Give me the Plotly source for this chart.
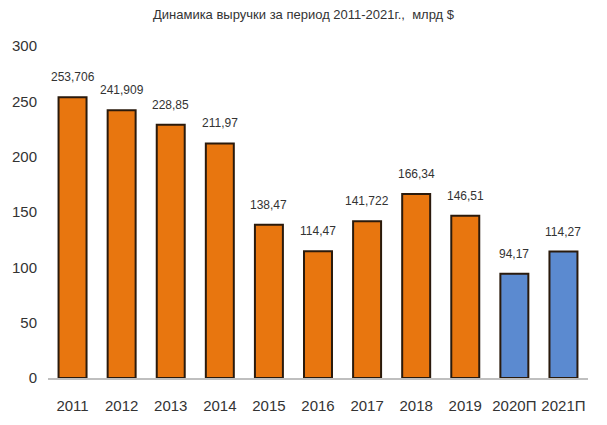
import plotly.graph_objects as go

years = ["2011", "2012", "2013", "2014", "2015", "2016", "2017", "2018", "2019", "2020П", "2021П"]
revenue = [253.706, 241.909, 228.85, 211.97, 138.47, 114.47, 141.722, 166.34, 146.51, 94.17, 114.27]
labels = ["253,706", "241,909", "228,85", "211,97", "138,47", "114,47", "141,722", "166,34", "146,51", "94,17", "114,27"]
is_forecast = [False] * 9 + [True] * 2

FONT = "Liberation Sans Narrow, Arial Narrow, sans-serif"
colors = ["#5B8AD0" if f else "#E8760F" for f in is_forecast]

fig = go.Figure()
fig.add_trace(go.Bar(
    x=years, y=revenue,
    marker=dict(color=colors, line=dict(color="#2A1A0C", width=2)),
    width=0.57,
))
for i, (y, t) in enumerate(zip(revenue, labels)):
    fig.add_annotation(x=i, y=y, xref="x", yref="y", text=t, showarrow=False, yshift=20,
                       font=dict(family=FONT, size=12, color="#333333"))

fig.update_layout(
    width=607, height=425,
    margin=dict(l=46, r=19, t=46, b=47),
    paper_bgcolor="white", plot_bgcolor="white",
    showlegend=False,
    title=dict(text="Динамика выручки за период 2011-2021г.,  млрд $",
               x=0.5, xanchor="center", y=0.965, yanchor="middle",
               font=dict(family=FONT, size=13, color="#333333")),
    xaxis=dict(type="category", categoryorder="array", categoryarray=years,
               range=[-0.5, len(years) - 0.5],
               showline=True, linecolor="#BFBFBF", linewidth=1.5, ticks="",
               tickfont=dict(family=FONT, size=15, color="#333333"),
               ticklabelstandoff=13, automargin=False),
    yaxis=dict(range=[0, 300], dtick=50, showgrid=False, zeroline=False,
               showline=False, tickfont=dict(family=FONT, size=15, color="#333333"),
               ticklabelstandoff=10),
)
fig.write_html("out.html")
